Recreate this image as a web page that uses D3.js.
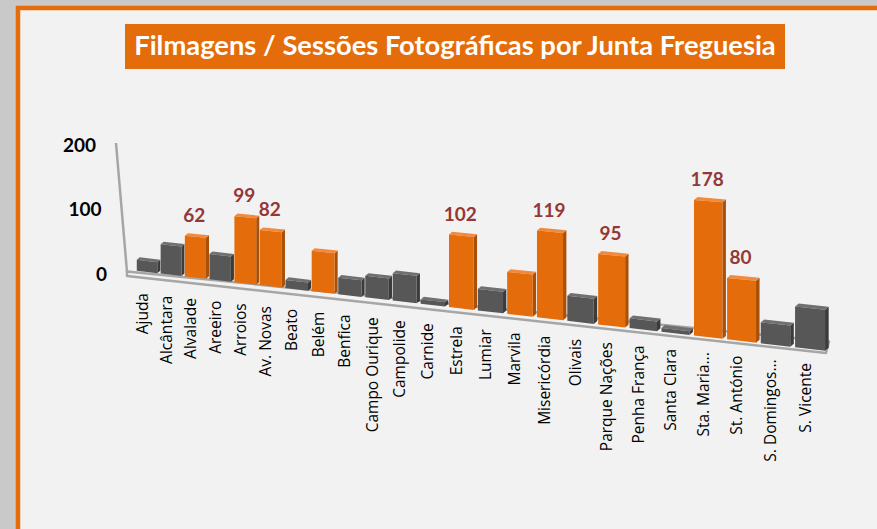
<!DOCTYPE html>
<html>
<head>
<meta charset="utf-8">
<script src="https://cdn.jsdelivr.net/npm/d3@7/dist/d3.min.js"></script>
<style>
  html, body { margin: 0; padding: 0; background: #c8c9c8; }
  svg { display: block; }
</style>
</head>
<body>
<div id="chart"></div>
<script>
var title = "Filmagens / Sessões Fotográficas por Junta Freguesia";

var categories = ["Ajuda", "Alcântara", "Alvalade", "Areeiro", "Arroios", "Av. Novas", "Beato",
    "Belém", "Benfica", "Campo Ourique", "Campolide", "Carnide", "Estrela", "Lumiar", "Marvila",
    "Misericórdia", "Olivais", "Parque Nações", "Penha França", "Santa Clara", "Sta. Maria...",
    "St. António", "S. Domingos...", "S. Vicente"];

var values = [17, 45, 62, 38, 99, 82, 12, 59, 24, 31, 39, 6, 102, 30, 58, 119, 34, 95, 13, 5, 178, 80, 27, 52];

// bars drawn in orange
var highlighted = ["Alvalade", "Arroios", "Av. Novas", "Belém", "Estrela", "Marvila",
    "Misericórdia", "Parque Nações", "Sta. Maria...", "St. António"];

// bars that carry a value label
var labelled = ["Alvalade", "Arroios", "Av. Novas", "Estrela", "Misericórdia",
    "Parque Nações", "Sta. Maria...", "St. António"];

var yTicks = [0, 100, 200];

var W = 877, H = 529;

var svg = d3.select("#chart").append("svg")
    .attr("width", W)
    .attr("height", H);

// panel with orange frame
svg.append("rect")
    .attr("x", 18).attr("y", 8)
    .attr("width", W).attr("height", H)
    .attr("fill", "#f2f2f2")
    .attr("stroke", "#e46c0a")
    .attr("stroke-width", 4.5);

// title box
svg.append("rect")
    .attr("x", 125).attr("y", 24)
    .attr("width", 660).attr("height", 45)
    .attr("fill", "#e46c0a");

var titleText = svg.append("text")
    .attr("x", 455).attr("y", 55)
    .attr("text-anchor", "middle")
    .style("font-family", "Lato, 'Open Sans', sans-serif")
    .style("font-weight", "bold")
    .style("font-size", "24px")
    .attr("fill", "#ffffff")
    .text(title);
var tl = titleText.node().getComputedTextLength();
titleText.style("font-size", (24 * 642 / tl) + "px");

// --- perspective set-up -------------------------------------------------
var k = 1.21;        // depth of the left end relative to the right end
var t = d3.scalePoint().domain(categories).range([0, 1]);
var step = 1 / (categories.length - 1);
var depth = function(tt) { return k - (k - 1) * tt; };
var u = function(tt) { return tt / depth(tt); };

var sx = d3.scaleLinear().domain([0, 1]).range([147, 810]);
var sy = d3.scaleLinear().domain([0, 1]).range([272, 349]);
var hy = d3.scaleLinear().domain([0, 100]).range([0, 78.5]);

function proj(tt, v) {
    var uu = u(tt);
    return [sx(uu), sy(uu) - hy(v) / depth(tt)];
}

// y axis (back wall edge)
var yAxis = d3.scaleLinear().domain([0, 200]).range([272, 143]);
var axisX = d3.scaleLinear().domain([0, 200]).range([127, 116]);

svg.append("line")
    .attr("x1", axisX(0)).attr("y1", yAxis(0))
    .attr("x2", axisX(200)).attr("y2", yAxis(200))
    .attr("stroke", "#a6a6a6")
    .attr("stroke-width", 2.5);

svg.selectAll(".ytick")
    .data(yTicks)
    .enter().append("text")
    .attr("class", "ytick")
    .attr("x", function(d) { return axisX(d) - 20; })
    .attr("y", function(d) { return yAxis(d) + 2; })
    .attr("dy", "0.35em")
    .attr("text-anchor", "end")
    .style("font-family", "Lato, 'Open Sans', sans-serif")
    .style("font-weight", "bold")
    .style("font-size", "19px")
    .attr("fill", "#000")
    .text(function(d) { return d; });

// floor slab
var backY = d3.scaleLinear().domain([127, 829]).range([271.5, 341.5]);
var frontY = d3.scaleLinear().domain([127, 826]).range([276, 353]);
svg.append("path")
    .attr("d", "M" + [127, backY(127)] + "L" + [829, backY(829)] +
        "L" + [826, frontY(826)] + "L" + [127, frontY(127)] + "Z")
    .attr("fill", "none")
    .attr("stroke", "#a6a6a6")
    .attr("stroke-width", 2.5)
    .attr("stroke-linejoin", "round");

// --- bars ---------------------------------------------------------------
var half = 0.43 * step;
var off = [3.6, -3];

var colours = {
    on:  { front: "#e46c0a", side: "#a9500a", top: "#f28a3e" },
    off: { front: "#575757", side: "#3b3b3b", top: "#707070" }
};

var bars = svg.selectAll(".bar")
    .data(categories)
    .enter().append("g")
    .attr("class", "bar");

bars.each(function(c, i) {
    var g = d3.select(this);
    var tc = t(c);
    var d = depth(tc);
    var col = highlighted.indexOf(c) >= 0 ? colours.on : colours.off;
    var bl = proj(tc - half, 0), br = proj(tc + half, 0);
    var tlp = proj(tc - half, values[i]), trp = proj(tc + half, values[i]);
    var ox = off[0] / d, oy = off[1] / d;

    // side face
    g.append("path")
        .attr("d", "M" + br + "L" + [br[0] + ox, br[1] + oy] +
            "L" + [trp[0] + ox, trp[1] + oy] + "L" + trp + "Z")
        .attr("fill", col.side);
    // top face
    g.append("path")
        .attr("d", "M" + tlp + "L" + trp + "L" + [trp[0] + ox, trp[1] + oy] +
            "L" + [tlp[0] + ox, tlp[1] + oy] + "Z")
        .attr("fill", col.top);
    // front face
    g.append("path")
        .attr("d", "M" + bl + "L" + br + "L" + trp + "L" + tlp + "Z")
        .attr("fill", col.front);
});

// value labels
svg.selectAll(".vlabel")
    .data(categories.filter(function(c) { return labelled.indexOf(c) >= 0; }))
    .enter().append("text")
    .attr("class", "vlabel")
    .attr("x", function(c) { return proj(t(c), 0)[0] - 1; })
    .attr("y", function(c) { return proj(t(c), values[categories.indexOf(c)])[1] - 15; })
    .attr("text-anchor", "middle")
    .style("font-family", "Lato, 'Open Sans', sans-serif")
    .style("font-weight", "bold")
    .style("font-size", "19px")
    .attr("fill", "#953735")
    .text(function(c) { return values[categories.indexOf(c)]; });

// category labels
var labelTop = d3.scaleLinear().domain([147, 810]).range([293, 363]);
svg.selectAll(".clabel")
    .data(categories)
    .enter().append("text")
    .attr("class", "clabel")
    .attr("transform", function(c) {
        var x = proj(t(c), 0)[0];
        return "translate(" + (x + 0.5) + "," + labelTop(x) + ") rotate(-90)";
    })
    .attr("text-anchor", "end")
    .style("font-family", "'Open Sans', sans-serif")
    .style("font-size", "15.5px")
    .attr("fill", "#000")
    .text(function(c) { return c; });
</script>
</body>
</html>
